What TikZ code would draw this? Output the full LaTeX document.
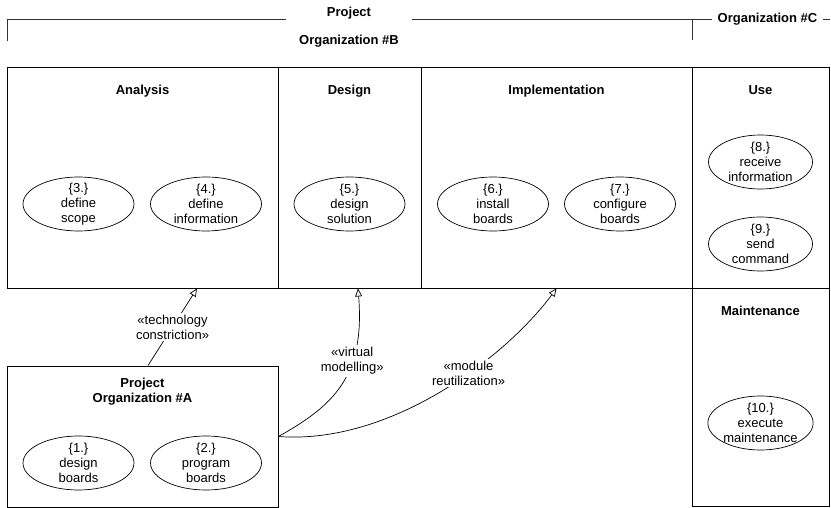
\documentclass[tikz,border=0pt]{standalone}
\usepackage{fontspec}
\setmainfont{Liberation Sans}
\usetikzlibrary{shapes.geometric,arrows.meta,positioning}

\begin{document}
\begin{tikzpicture}[x=1pt,y=-1pt]

    \tikzstyle{every node}=[font=\fontsize{13}{15}\selectfont, align=center]
    \tikzstyle{phase}=[draw, rectangle, line width=.9pt, inner sep=0pt]
    \tikzstyle{title}=[font=\fontsize{13}{15}\selectfont\bfseries]
    \tikzstyle{usecase}=[draw, ellipse, line width=.7pt, minimum width=111pt, minimum height=54pt, inner xsep=0pt, inner ysep=-6pt]
    \tikzstyle{stereo}=[fill=white, inner sep=2pt]
    \tikzstyle{realize}=[line width=.7pt, -{Triangle[open,length=8pt,width=7pt]}]
    \tikzstyle{bracket}=[line width=.8pt, black!80]
    \def\caseY{204}
    \def\caseYA{463}

    \useasboundingbox (0,0) rectangle (831,508);

    % organization brackets
    \draw[bracket] (7,41) -- (7,19) -- (830,19);
    \draw[bracket] (692,19) -- (692,40);
    \node[title, fill=white, inner xsep=13.5pt] (orgB) at (349,27) {Project\\[13pt]Organization \#B};
    \node[title, fill=white, inner xsep=5.5pt] (orgC) at (767.5,19) {Organization \#C};

    % phases
    \node[phase, minimum width=271pt, minimum height=221pt] (analysis) at (142.5,177.5) {};
    \node[phase, minimum width=143pt, minimum height=221pt] (design) at (349.5,177.5) {};
    \node[phase, minimum width=271pt, minimum height=221pt] (impl) at (556.5,177.5) {};
    \node[phase, minimum width=137pt, minimum height=221pt] (use) at (760.5,177.5) {};
    \node[phase, minimum width=137pt, minimum height=218pt] (maint) at (760.5,397) {};
    \node[phase, minimum width=271pt, minimum height=141pt] (orgA) at (142.5,436.5) {};

    \node[title, below=15pt] (analysis-t) at (analysis.north) {Analysis};
    \node[title, below=15pt] (design-t) at (design.north) {Design};
    \node[title, below=15pt] (impl-t) at (impl.north) {Implementation};
    \node[title, below=15pt] (use-t) at (use.north) {Use};
    \node[title, below=15pt] (maint-t) at (maint.north) {Maintenance};
    \node[title, below=9pt] (orgA-t) at (orgA.north) {Project\\Organization \#A};

    % use cases
    \node[usecase] (uc1) at (78.5,\caseYA) {\{1.\}\\design\\boards};
    \node[usecase] (uc2) at (206,\caseYA) {\{2.\}\\program\\boards};
    \node[usecase] (uc3) at (78.5,\caseY) {\{3.\}\\define\\scope};
    \node[usecase] (uc4) at (206,\caseY) {\{4.\}\\define\\information};
    \node[usecase] (uc5) at (349.5,\caseY) {\{5.\}\\design\\solution};
    \node[usecase] (uc6) at (493,\caseY) {\{6.\}\\install\\boards};
    \node[usecase] (uc7) at (620,\caseY) {\{7.\}\\configure\\boards};
    \node[usecase, minimum width=104pt] (uc8) at (760.5,162) {\{8.\}\\receive\\information};
    \node[usecase, minimum width=104pt] (uc9) at (760.5,244) {\{9.\}\\send\\command};
    \node[usecase, minimum width=104pt] (uc10) at (760.5,423) {\{10.\}\\execute\\maintenance};

    % dependencies
    \draw[realize] ([xshift=5.5pt]orgA.north) -- ([xshift=54.5pt]analysis.south)
        node[stereo, pos=.5] (tc) {«technology\\constriction»};
    \draw[realize] (orgA.east) .. controls (335,405) and (365,375) .. ([xshift=8.5pt]design.south)
        node[stereo, pos=.65] (vm) {«virtual\\modelling»};
    \draw[realize] (orgA.east) .. controls (390,445) and (505,358) .. (impl.south)
        node[stereo, pos=.6] (mr) {«module\\reutilization»};
\end{tikzpicture}
\end{document}
